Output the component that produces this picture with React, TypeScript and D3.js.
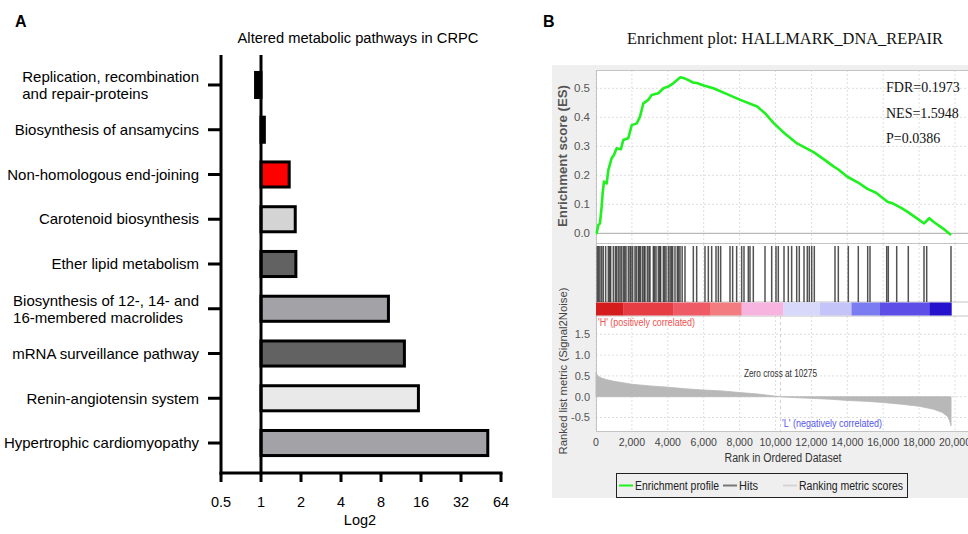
import React, { useEffect, useRef } from 'react';
import * as d3 from 'd3';

// ---------- Panel A data ----------
const titleA = 'Altered metabolic pathways in CRPC';
const categories = [
  'Replication, recombination\nand repair-proteins',
  'Biosynthesis of ansamycins',
  'Non-homologous end-joining',
  'Carotenoid biosynthesis',
  'Ether lipid metabolism',
  'Biosynthesis of 12-, 14- and\n16-membered macrolides',
  'mRNA surveillance pathway',
  'Renin-angiotensin system',
  'Hypertrophic cardiomyopathy',
];
const foldChanges = [0.91, 1.06, 1.63, 1.81, 1.83, 9.1, 12.0, 15.3, 50.9];
const barPalette = ['#000000', '#000000', '#ff0000', '#d4d4d4', '#626262', '#a3a3a7', '#626262', '#e9e9e9', '#a3a3a7'];
const xTicksA = [0.5, 1, 2, 4, 8, 16, 32, 64];

// ---------- Panel B data ----------
const titleB = 'Enrichment plot: HALLMARK_DNA_REPAIR';
const stats = ['FDR=0.1973', 'NES=1.5948', 'P=0.0386'];
const esRanks = [0, 37, 130, 220, 315, 370, 445, 595, 687, 872, 1000, 1150, 1390, 1520, 1800, 1990, 2270, 2450, 2640, 2910, 3100, 3470, 3760, 4000, 4320, 4700, 4900, 5150, 5400, 5620, 6000, 6540, 7300, 8040, 8980, 9400, 9900, 10500, 11200, 12120, 12700, 13250, 13500, 14000, 14600, 15120, 15600, 16240, 16500, 17000, 17360, 17800, 18280, 18570, 18800, 19300, 19780];
const esScores = [0, 0, 0.029, 0.034, 0.092, 0.138, 0.178, 0.172, 0.218, 0.259, 0.27, 0.293, 0.29, 0.322, 0.328, 0.373, 0.379, 0.402, 0.448, 0.46, 0.477, 0.483, 0.5, 0.505, 0.518, 0.538, 0.535, 0.528, 0.52, 0.518, 0.51, 0.5, 0.48, 0.46, 0.437, 0.415, 0.38, 0.345, 0.31, 0.28, 0.255, 0.23, 0.22, 0.195, 0.175, 0.153, 0.14, 0.109, 0.104, 0.088, 0.074, 0.055, 0.034, 0.052, 0.04, 0.018, -0.006];
const hitRanks = [74, 150, 223, 320, 409, 540, 687, 760, 817, 966, 1080, 1151, 1250, 1337, 1420, 1523, 1600, 1671, 1801, 1894, 1950, 2043, 2173, 2250, 2358, 2420, 2488, 2600, 2680, 2730, 2859, 2950, 3008, 3194, 3260, 3343, 3472, 3550, 3602, 3751, 3820, 3900, 4030, 4123, 4200, 4271, 4401, 4531, 4600, 4680, 4800, 4958, 5422, 5608, 6072, 6258, 6444, 6685, 6815, 6945, 7465, 7613, 7836, 8114, 8245, 8485, 8579, 8764, 9415, 9788, 10028, 10156, 10474, 10714, 10900, 11180, 11326, 11588, 11772, 11883, 12017, 12162, 13315, 13500, 14056, 14613, 15136, 15265, 16195, 16284, 16752, 17398, 18273, 18423, 19777];
const metricRanks = [0, 100, 300, 600, 1000, 2000, 3000, 4000, 5000, 6000, 7000, 8000, 9000, 10275, 11000, 12000, 13000, 14000, 15000, 16000, 17000, 18000, 18800, 19300, 19600, 19700, 19780];
const metricValues = [0.58, 0.5, 0.45, 0.41, 0.37, 0.3, 0.26, 0.23, 0.19, 0.16, 0.14, 0.1, 0.065, 0, -0.02, -0.04, -0.06, -0.09, -0.11, -0.14, -0.18, -0.23, -0.3, -0.38, -0.48, -0.58, -0.7];
const colorBinEdges = [0, 1520, 4300, 6350, 8110, 10430, 12480, 14240, 15820, 18600, 19800];
const heatPalette = ['#d41c1c', '#e63c44', '#ee5a66', '#f27c80', '#f6b4de', '#d8d8fa', '#c4c4f8', '#7c7cf2', '#5c4ee6', '#2412cc'];
const rankTicks = [0, 2000, 4000, 6000, 8000, 10000, 12000, 14000, 16000, 18000, 20000];
const esTicks = [0, 0.1, 0.2, 0.3, 0.4, 0.5];
const metricTicks = [-0.5, 0, 0.5, 1, 1.5];
const zeroCross = 10275;

export default function App() {
  const ref = useRef<SVGSVGElement>(null);

  useEffect(() => {
    const svg = d3.select(ref.current);
    svg.selectAll('*').remove();
    const sans = '"Liberation Sans", Arial, sans-serif';
    const serif = '"Liberation Serif", "Times New Roman", serif';

    // ================= Panel A =================
    const gA = svg.append('g').attr('font-family', sans).attr('fill', '#000');
    gA.append('text').attr('x', 15).attr('y', 27).attr('font-size', 16).attr('font-weight', 'bold').text('A');
    gA.append('text').attr('x', 358).attr('y', 43).attr('text-anchor', 'middle').attr('font-size', 14.7).text(titleA);

    const x = d3.scaleLog().base(2).domain([0.5, 64]).range([221, 501]);
    const y = d3.scaleBand<string>().domain(categories).range([62.6, 465.4]).paddingInner(0.44).paddingOuter(0.22);
    const fillOf = d3.scaleOrdinal<string, string>().domain(categories).range(barPalette);
    const top = 55, bottom = 473;

    gA.selectAll('rect.bar').data(categories).join('rect')
      .attr('class', 'bar')
      .attr('x', (_d, i) => Math.min(x(1), x(foldChanges[i])))
      .attr('width', (_d, i) => Math.abs(x(foldChanges[i]) - x(1)))
      .attr('y', d => y(d)!)
      .attr('height', y.bandwidth())
      .attr('fill', d => fillOf(d))
      .attr('stroke', '#000').attr('stroke-width', 3);

    // axes
    gA.append('line').attr('x1', x(0.5)).attr('x2', x(0.5)).attr('y1', top).attr('y2', bottom + 1.5).attr('stroke', '#000').attr('stroke-width', 3);
    gA.append('line').attr('x1', x(1)).attr('x2', x(1)).attr('y1', top).attr('y2', bottom).attr('stroke', '#000').attr('stroke-width', 3);
    gA.append('line').attr('x1', x(0.5) - 1.5).attr('x2', x(64) + 1.5).attr('y1', bottom).attr('y2', bottom).attr('stroke', '#000').attr('stroke-width', 3);
    gA.selectAll('line.xt').data(xTicksA).join('line').attr('class', 'xt')
      .attr('x1', d => x(d)).attr('x2', d => x(d)).attr('y1', bottom).attr('y2', bottom + 9)
      .attr('stroke', '#000').attr('stroke-width', 3);
    gA.selectAll('text.xl').data(xTicksA).join('text').attr('class', 'xl')
      .attr('x', d => x(d)).attr('y', 507).attr('text-anchor', 'middle').attr('font-size', 14.5)
      .text(d => String(d));
    gA.append('text').attr('x', 360).attr('y', 525).attr('text-anchor', 'middle').attr('font-size', 14.5).text('Log2');

    gA.selectAll('line.yt').data(categories).join('line').attr('class', 'yt')
      .attr('x1', 208).attr('x2', x(0.5)).attr('y1', d => y(d)! + y.bandwidth() / 2).attr('y2', d => y(d)! + y.bandwidth() / 2)
      .attr('stroke', '#000').attr('stroke-width', 3);

    categories.forEach(c => {
      const cy = y(c)! + y.bandwidth() / 2;
      const lines = c.split('\n');
      if (lines.length === 1) {
        gA.append('text').attr('x', 199).attr('y', cy).attr('dy', '0.35em').attr('text-anchor', 'end').attr('font-size', 15).text(c);
      } else {
        const t1 = gA.append('text').attr('x', 199).attr('y', cy - 8).attr('dy', '0.35em').attr('text-anchor', 'end').attr('font-size', 15).text(lines[0]);
        const w = (t1.node() as SVGTextElement).getComputedTextLength();
        gA.append('text').attr('x', 199 - w).attr('y', cy + 9).attr('dy', '0.35em').attr('font-size', 15).text(lines[1]);
      }
    });

    // ================= Panel B =================
    const gB = svg.append('g').attr('font-family', sans);
    gB.append('text').attr('x', 543).attr('y', 27).attr('font-size', 16).attr('font-weight', 'bold').text('B');
    gB.append('text').attr('x', 785).attr('y', 44).attr('text-anchor', 'middle').attr('font-family', serif)
      .attr('font-size', 16).attr('textLength', 316).attr('lengthAdjust', 'spacingAndGlyphs').attr('fill', '#111').text(titleB);

    gB.append('rect').attr('x', 552).attr('y', 65).attr('width', 416).attr('height', 433).attr('fill', '#efefef');

    const xr = d3.scaleLinear().domain([0, 20000]).range([596, 955]);
    const plotL = 596, plotR = 968;
    const esTop = 70, esBot = 243, hitTop = 244, hitBot = 302, barBot = 316, lowBot = 431;
    const yES = d3.scaleLinear().domain([0, 0.5]).range([233.3, 88.3]);
    const yM = d3.scaleLinear().domain([0, 1]).range([396.7, 355.1]);

    gB.append('rect').attr('x', plotL).attr('y', esTop).attr('width', plotR - plotL).attr('height', lowBot - esTop).attr('fill', '#fff');

    // grids
    const grid = gB.append('g').attr('stroke', '#dedede').attr('stroke-dasharray', '2,2').attr('stroke-width', 1);
    rankTicks.forEach(t => {
      grid.append('line').attr('x1', xr(t)).attr('x2', xr(t)).attr('y1', esTop).attr('y2', esBot);
      grid.append('line').attr('x1', xr(t)).attr('x2', xr(t)).attr('y1', hitTop).attr('y2', hitBot);
      grid.append('line').attr('x1', xr(t)).attr('x2', xr(t)).attr('y1', barBot).attr('y2', lowBot);
    });
    esTicks.filter(t => t > 0).forEach(t => grid.append('line').attr('x1', plotL).attr('x2', plotR).attr('y1', yES(t)).attr('y2', yES(t)));
    metricTicks.forEach(t => grid.append('line').attr('x1', plotL).attr('x2', plotR).attr('y1', yM(t)).attr('y2', yM(t)));

    // ES zero line
    gB.append('line').attr('x1', plotL).attr('x2', plotR).attr('y1', yES(0)).attr('y2', yES(0)).attr('stroke', '#a8a8a8').attr('stroke-width', 1);

    // frames
    const frame = gB.append('g').attr('stroke', '#c4c4c4').attr('fill', 'none').attr('stroke-width', 1);
    frame.append('rect').attr('x', plotL + 0.5).attr('y', esTop + 0.5).attr('width', plotR - plotL).attr('height', lowBot - esTop);
    [esBot + 0.5, hitBot, barBot].forEach(yy => frame.append('line').attr('x1', plotL).attr('x2', plotR).attr('y1', yy).attr('y2', yy));

    // ES curve
    const esPts = esRanks.map((r, i) => [r, esScores[i]] as [number, number]);
    gB.append('path').attr('d', d3.line<[number, number]>().x(d => xr(d[0])).y(d => yES(d[1]))(esPts)!)
      .attr('fill', 'none').attr('stroke', '#1ff01f').attr('stroke-width', 2.6).attr('stroke-linejoin', 'round');

    // stats
    stats.forEach((s, i) => {
      gB.append('text').attr('x', 886).attr('y', 92 + i * 25.5).attr('font-family', serif).attr('font-size', 14).attr('fill', '#111').text(s);
    });

    // hits
    gB.selectAll('line.hit').data(hitRanks).join('line').attr('class', 'hit')
      .attr('x1', d => xr(d)).attr('x2', d => xr(d)).attr('y1', hitTop + 2).attr('y2', hitBot)
      .attr('stroke', '#1a1a1a').attr('stroke-opacity', 0.75).attr('stroke-width', 1.5);

    // color bar
    const binColor = d3.scaleOrdinal<number, string>().domain(d3.range(heatPalette.length)).range(heatPalette);
    gB.selectAll('rect.bin').data(d3.range(colorBinEdges.length - 1)).join('rect').attr('class', 'bin')
      .attr('x', i => xr(colorBinEdges[i])).attr('width', i => xr(colorBinEdges[i + 1]) - xr(colorBinEdges[i]) + 0.3)
      .attr('y', hitBot + 0.5).attr('height', barBot - hitBot - 1).attr('fill', i => binColor(i));

    // metric area
    const mPts = metricRanks.map((r, i) => [r, metricValues[i]] as [number, number]);
    gB.append('path').attr('d', d3.area<[number, number]>().x(d => xr(d[0])).y0(yM(0)).y1(d => yM(d[1]))(mPts)!)
      .attr('fill', '#b8b8b8').attr('stroke', '#b8b8b8').attr('stroke-width', 0.8);

    // zero cross line
    gB.append('line').attr('x1', xr(zeroCross)).attr('x2', xr(zeroCross)).attr('y1', barBot).attr('y2', lowBot)
      .attr('stroke', '#cfcfcf').attr('stroke-dasharray', '3,3');

    gB.append('text').attr('x', 598).attr('y', 326).attr('font-size', 10).attr('fill', '#f05050')
      .attr('textLength', 97).attr('lengthAdjust', 'spacingAndGlyphs').text("'H' (positively correlated)");
    gB.append('text').attr('x', 744).attr('y', 377).attr('font-size', 10).attr('fill', '#333')
      .attr('textLength', 73).attr('lengthAdjust', 'spacingAndGlyphs').text('Zero cross at ' + zeroCross);
    gB.append('text').attr('x', 782).attr('y', 427).attr('font-size', 10.5).attr('fill', '#5555ee')
      .attr('textLength', 100).attr('lengthAdjust', 'spacingAndGlyphs').text("'L' (negatively correlated)");

    // tick labels
    gB.selectAll('text.est').data(esTicks).join('text').attr('class', 'est')
      .attr('x', 590).attr('y', d => yES(d)).attr('dy', '0.35em').attr('text-anchor', 'end')
      .attr('font-size', 11.5).attr('fill', '#555').text(d => d.toFixed(1));
    gB.selectAll('text.mt').data(metricTicks).join('text').attr('class', 'mt')
      .attr('x', 590).attr('y', d => yM(d)).attr('dy', '0.35em').attr('text-anchor', 'end')
      .attr('font-size', 11).attr('fill', '#555').text(d => d.toFixed(1));
    const fmt = d3.format(',');
    gB.selectAll('text.rt').data(rankTicks).join('text').attr('class', 'rt')
      .attr('x', d => xr(d)).attr('y', 446).attr('text-anchor', 'middle')
      .attr('font-size', 10.5).attr('fill', '#444').text(d => fmt(d));
    gB.append('text').attr('x', 783).attr('y', 462).attr('text-anchor', 'middle').attr('font-size', 12.5).attr('fill', '#333')
      .attr('textLength', 117).attr('lengthAdjust', 'spacingAndGlyphs').text('Rank in Ordered Dataset');

    gB.append('text').attr('transform', 'translate(567,156) rotate(-90)').attr('text-anchor', 'middle')
      .attr('font-size', 12).attr('font-weight', 'bold').attr('fill', '#555')
      .attr('textLength', 142).attr('lengthAdjust', 'spacingAndGlyphs').text('Enrichment score (ES)');
    gB.append('text').attr('transform', 'translate(567,371) rotate(-90)').attr('text-anchor', 'middle')
      .attr('font-size', 11).attr('fill', '#444')
      .attr('textLength', 167).attr('lengthAdjust', 'spacingAndGlyphs').text('Ranked list metric (Signal2Noise)');

    // legend
    const lg = gB.append('g');
    lg.append('rect').attr('x', 616.5).attr('y', 473.5).attr('width', 291).attr('height', 24).attr('fill', 'none').attr('stroke', '#222').attr('stroke-width', 1);
    const legendItems = [
      { label: 'Enrichment profile', color: '#1ff01f', x: 619, w: 84 },
      { label: 'Hits', color: '#777777', x: 723, w: 19 },
      { label: 'Ranking metric scores', color: '#d4d4d4', x: 783, w: 104 },
    ];
    legendItems.forEach(it => {
      lg.append('line').attr('x1', it.x).attr('x2', it.x + 14).attr('y1', 485.5).attr('y2', 485.5).attr('stroke', it.color).attr('stroke-width', 2);
      lg.append('text').attr('x', it.x + 16).attr('y', 489.5).attr('font-size', 12).attr('fill', '#222')
        .attr('textLength', it.w).attr('lengthAdjust', 'spacingAndGlyphs').text(it.label);
    });
  }, []);

  return (
    <svg ref={ref} width={968} height={534} style={{ position: 'absolute', left: 0, top: 0, background: '#fff' }} />
  );
}
